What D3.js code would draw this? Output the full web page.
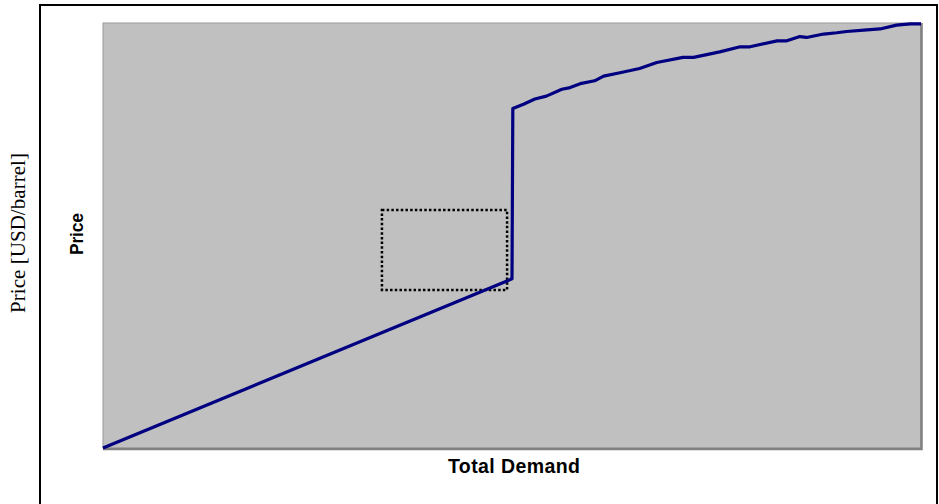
<!DOCTYPE html>
<html>
<head>
<meta charset="utf-8">
<script src="https://cdn.jsdelivr.net/npm/d3@7/dist/d3.min.js"></script>
<style>
  html, body { margin: 0; padding: 0; background: #ffffff; }
  svg { display: block; }
</style>
</head>
<body>
<svg id="chart" width="939" height="504"></svg>
<script>
// Supply curve: total demand (x) against price (y), both in relative units 0–100.
// Linear lower branch up to the capacity point, a vertical jump, then a stepped upper branch.
const demand = [0, 50.0, 50.1,
  51.4, 52.8, 54.2, 56.1, 57.1, 58.5, 60.1, 61.2, 63.2, 65.6, 67.7, 70.9, 72.2,
  75.4, 77.9, 79.1, 82.4, 83.6, 85.2, 86.0, 88.1, 89.7, 90.9, 93.4, 95.0, 97.0,
  98.7, 100];
const price = [0, 39.8, 79.9,
  80.9, 82.1, 82.8, 84.4, 84.8, 85.8, 86.4, 87.5, 88.3, 89.3, 90.7, 91.9, 91.9,
  93.2, 94.4, 94.4, 95.8, 95.8, 96.8, 96.6, 97.4, 97.7, 98.0, 98.4, 98.6, 99.5,
  99.8, 99.8];

// Highlighted region below the capacity point (demand range, price range)
const regionDemand = [34.1, 49.4];
const regionPrice = [37.2, 56.0];

const xTitle = "Total Demand";
const yTitle = "Price";
const sideTitle = "Price [USD/barrel]";

const svg = d3.select("#chart");

// Outer frame
svg.append("rect")
  .attr("x", 40).attr("y", 5)
  .attr("width", 897).attr("height", 510)
  .attr("fill", "#ffffff")
  .attr("stroke", "#000000").attr("stroke-width", 2);

const plot = { left: 103, top: 23, right: 921, bottom: 448 };

const x = d3.scaleLinear().domain([0, 100]).range([plot.left, plot.right]);
const y = d3.scaleLinear().domain([0, 100]).range([plot.bottom, plot.top]);

// Plot area background
svg.append("rect")
  .attr("x", x(0)).attr("y", y(100))
  .attr("width", x(100) - x(0)).attr("height", y(0) - y(100))
  .attr("fill", "#c0c0c0")
  .attr("stroke", "#9a9a9a").attr("stroke-width", 1);
// Darker edge on right and bottom
svg.append("path")
  .attr("d", `M${x(100) + 0.5},${y(100)} V${y(0) + 1} H${x(0)}`)
  .attr("fill", "none")
  .attr("stroke", "#808080").attr("stroke-width", 2.5);

// Dotted highlight box
svg.append("rect")
  .attr("x", x(regionDemand[0])).attr("y", y(regionPrice[1]))
  .attr("width", x(regionDemand[1]) - x(regionDemand[0]))
  .attr("height", y(regionPrice[0]) - y(regionPrice[1]))
  .attr("fill", "none")
  .attr("stroke", "#000000").attr("stroke-width", 2.5)
  .attr("stroke-dasharray", "2.5,2.2");

// Supply curve
const pts = demand.map((d, i) => [d, price[i]]);
const line = d3.line().x(d => x(d[0])).y(d => y(d[1]));
svg.append("path")
  .datum(pts)
  .attr("d", line)
  .attr("fill", "none")
  .attr("stroke", "#000080")
  .attr("stroke-width", 3.2)
  .attr("stroke-linejoin", "round");

// Axis titles
svg.append("text")
  .attr("x", 448).attr("y", 472.5)
  .attr("font-family", "Arial, 'Liberation Sans', sans-serif")
  .attr("font-weight", "bold").attr("font-size", 19.5)
  .attr("textLength", 132).attr("lengthAdjust", "spacing")
  .text(xTitle);

svg.append("text")
  .attr("transform", `translate(83,255) rotate(-90)`)
  .attr("font-family", "Arial, 'Liberation Sans', sans-serif")
  .attr("font-weight", "bold").attr("font-size", 17.5)
  .attr("textLength", 42).attr("lengthAdjust", "spacing")
  .text(yTitle);

svg.append("text")
  .attr("transform", `translate(25,313) rotate(-90)`)
  .attr("font-family", "'Times New Roman', 'Liberation Serif', serif")
  .attr("font-size", 21)
  .attr("textLength", 160).attr("lengthAdjust", "spacing")
  .text(sideTitle);
</script>
</body>
</html>
